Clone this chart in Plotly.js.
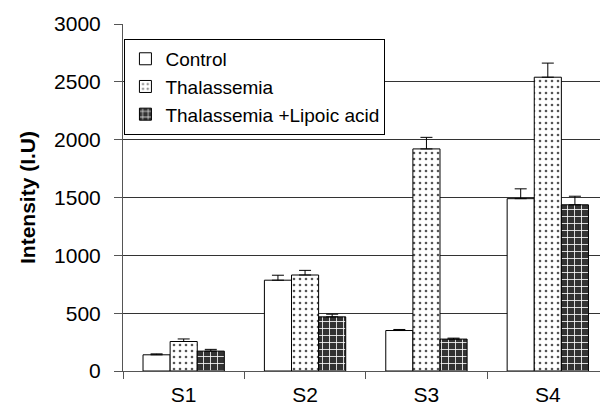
<!DOCTYPE html>
<html>
<head>
<meta charset="utf-8">
<script src="https://cdn.plot.ly/plotly-3.0.1.min.js"></script>
<style>html,body{margin:0;padding:0;background:#fff;}#chart{width:600px;height:414px;}</style>
</head>
<body>
<div id="chart"></div>
<script>
var categories = ['S1', 'S2', 'S3', 'S4'];
var seriesNames = ['Control', 'Thalassemia', 'Thalassemia +Lipoic acid'];
var control = [140, 785, 350, 1490];
var controlErr = [8, 43, 9, 85];
var thal = [255, 830, 1920, 2540];
var thalErr = [22, 40, 100, 122];
var lipoic = [172, 468, 276, 1437];
var lipoicErr = [15, 23, 8, 74];
var yTicks = [0, 500, 1000, 1500, 2000, 2500, 3000];

function errStyle(arr) {
  return {type: 'data', array: arr, arrayminus: arr.map(function(){return 0;}), symmetric: false,
          color: '#000', thickness: 1, width: 6};
}

var traces = [
  {type: 'bar', name: seriesNames[0], x: categories, y: control, legendgroup: 'a',
   marker: {color: '#ffffff', line: {color: '#000', width: 1}},
   error_y: errStyle(controlErr)},
  {type: 'bar', name: seriesNames[1], x: categories, y: thal, legendgroup: 'b',
   marker: {color: '#ffffff', line: {color: '#000', width: 1},
            pattern: {shape: '.', fgcolor: '#555', bgcolor: '#ffffff', size: 6, solidity: 0.15}},
   error_y: errStyle(thalErr)},
  {type: 'bar', name: seriesNames[2], x: categories, y: lipoic, legendgroup: 'c',
   marker: {color: '#333333', line: {color: '#000', width: 1},
            pattern: {shape: '+', fgcolor: '#ffffff', bgcolor: '#333333', size: 7, solidity: 0.22}},
   error_y: errStyle(lipoicErr)}
];

var layout = {
  width: 600, height: 414,
  margin: {l: 123, r: 0, t: 24, b: 43},
  paper_bgcolor: '#fff', plot_bgcolor: '#fff',
  font: {family: 'Arial, "Liberation Sans", sans-serif', color: '#000', size: 20},
  barmode: 'group', bargap: 0.33, bargroupgap: 0,
  showlegend: true,
  legend: {x: 0.003, y: 0.957, xanchor: 'left', yanchor: 'top', bgcolor: '#fff',
           bordercolor: '#000', borderwidth: 1, font: {size: 19}, tracegroupgap: 8,
           traceorder: 'normal'},
  xaxis: {type: 'category', range: [-0.5, 3.43], tickson: 'boundaries', ticks: 'outside',
          ticklen: 7, tickcolor: '#555', showline: true, linecolor: '#555', linewidth: 1,
          showgrid: false, tickfont: {size: 21}, ticklabelstandoff: 5, fixedrange: true},
  yaxis: {range: [0, 3000], tickvals: yTicks, ticks: 'outside', ticklen: 8, tickcolor: '#555',
          showline: true, linecolor: '#555', linewidth: 1, showgrid: true, gridcolor: '#333',
          gridwidth: 1, zeroline: false, tickfont: {size: 21}, ticklabelstandoff: 9,
          title: {text: '<b>Intensity (I.U)</b>', font: {size: 21}, standoff: 12}}
};

Plotly.newPlot('chart', traces, layout, {displayModeBar: false, staticPlot: true});
</script>
</body>
</html>
